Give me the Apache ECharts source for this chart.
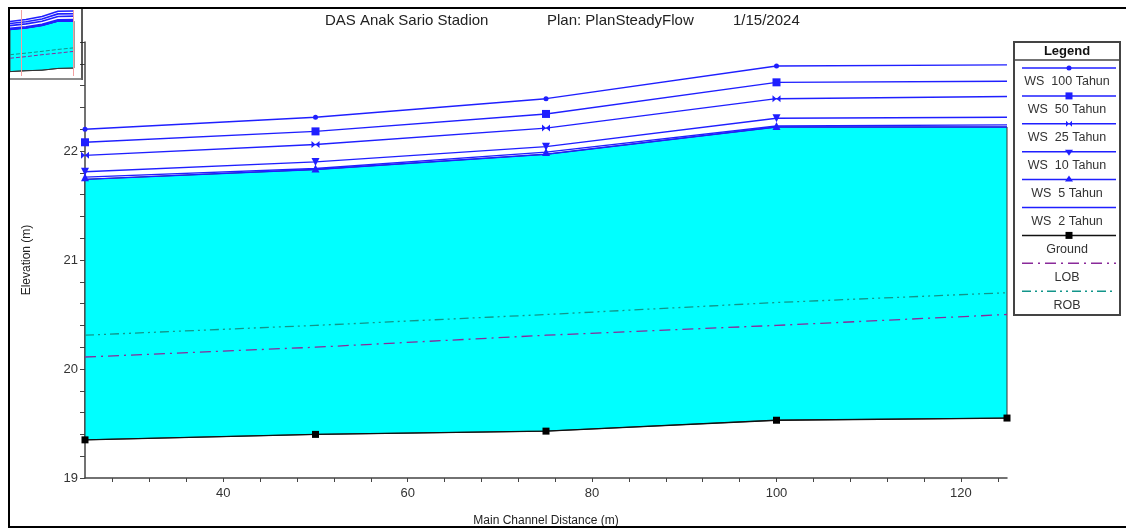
<!DOCTYPE html>
<html>
<head>
<meta charset="utf-8">
<script src="https://cdn.jsdelivr.net/npm/echarts@6/dist/echarts.min.js"></script>
<style>
html,body{margin:0;padding:0;background:#fff;}
#c{width:1126px;height:529px;}
</style>
</head>
<body>
<div id="c"></div>
<script>
// ---- data ----
const xs = [25, 50, 75, 100, 125];
const ws100 = [22.20, 22.31, 22.48, 22.78, 22.79];
const ws50  = [22.08, 22.18, 22.34, 22.63, 22.64];
const ws25  = [21.96, 22.06, 22.21, 22.48, 22.50];
const ws10  = [21.81, 21.90, 22.04, 22.30, 22.31];
const ws5   = [21.76, 21.84, 21.99, 22.23, 22.24];
const ws2   = [21.74, 21.83, 21.97, 22.22, 22.22];
const ground = [19.35, 19.40, 19.43, 19.53, 19.55];
const lob = [20.11, 20.20, 20.31, 20.40, 20.50];
const rob = [20.31, 20.40, 20.50, 20.61, 20.70];

const wsNames = ['WS  100 Tahun', 'WS  50 Tahun', 'WS  25 Tahun', 'WS  10 Tahun', 'WS  5 Tahun', 'WS  2 Tahun'];
const otherNames = ['Ground', 'LOB', 'ROB'];
const titleParts = ['DAS Anak Sario Stadion', 'Plan: PlanSteadyFlow', '1/15/2024'];

const xLabelValues = [40, 60, 80, 100, 120];
const xTickValues = [28, 32, 36, 40, 44, 48, 52, 56, 60, 64, 68, 72, 76, 80, 84, 88, 92, 96, 100, 104, 108, 112, 116, 120, 124];
const yLabelValues = [19, 20, 21, 22];
const yTickValues = [19, 19.2, 19.4, 19.6, 19.8, 20, 20.2, 20.4, 20.6, 20.8, 21, 21.2, 21.4, 21.6, 21.8, 22, 22.2, 22.4, 22.6, 22.8, 23];
const thumbMarks = [42, 124.5];

// ---- styles ----
const FONT = '"Liberation Sans", Arial, sans-serif';
const BLUE = '#1f1fff';
const LOBC = '#8a2a9a';
const ROBC = '#12958a';
const CYAN = '#00ffff';
const bowtie = 'path://M0,0L10,10L10,0L0,10Z';

const wsSeriesData = [ws100, ws50, ws25, ws10, ws5, ws2];
const wsSymbols = [
  {symbol: 'circle', size: 5, rotate: 0},
  {symbol: 'rect', size: 8, rotate: 0},
  {symbol: bowtie, size: [8, 7], rotate: 0},
  {symbol: 'triangle', size: 8, rotate: 180},
  {symbol: 'triangle', size: 8, rotate: 0},
  {symbol: 'none', size: 0, rotate: 0}
];

function pts(ys, lastNoSymbol) {
  return xs.map((x, i) => {
    if (lastNoSymbol && i === xs.length - 1) return {value: [x, ys[i]], symbol: 'none'};
    return [x, ys[i]];
  });
}

function fillSeries(xi, yi, stroke) {
  return {
    type: 'custom', xAxisIndex: xi, yAxisIndex: yi, silent: true, z: 1,
    data: [[xs[0], ground[0]]],
    renderItem: function (params, api) {
      const top = xs.map((x, i) => api.coord([x, ws2[i]]));
      const bot = xs.map((x, i) => api.coord([x, ground[i]])).reverse();
      return {type: 'polygon', shape: {points: top.concat(bot)},
        style: {fill: CYAN, stroke: stroke, lineWidth: 1}};
    }
  };
}

const series = [];
// main chart
series.push(fillSeries(0, 0, '#333'));
series.push({name: 'LOB', type: 'line', data: pts(lob), symbol: 'none', z: 3,
  lineStyle: {color: LOBC, width: 1.3, type: [11, 5, 2, 5]}});
series.push({name: 'ROB', type: 'line', data: pts(rob), symbol: 'none', z: 3,
  lineStyle: {color: ROBC, width: 1.3, type: [9, 4, 2, 4, 2, 4]}});
series.push({name: 'Ground', type: 'line', data: pts(ground), symbol: 'rect', symbolSize: 7, z: 4,
  itemStyle: {color: '#000'}, lineStyle: {color: '#111', width: 1.3}});
for (let k = wsSeriesData.length - 1; k >= 0; k--) {
  const s = wsSymbols[k];
  series.push({name: wsNames[k], type: 'line', data: pts(wsSeriesData[k], true), z: 5,
    symbol: s.symbol, symbolSize: s.size, symbolRotate: s.rotate, showAllSymbol: true,
    itemStyle: {color: BLUE}, lineStyle: {color: BLUE, width: 1.4}});
}
// thumbnail
series.push(fillSeries(1, 1, '#444'));
series.push({type: 'line', xAxisIndex: 1, yAxisIndex: 1, data: pts(lob), symbol: 'none', silent: true,
  lineStyle: {color: LOBC, width: 1, type: [4, 2]}});
series.push({type: 'line', xAxisIndex: 1, yAxisIndex: 1, data: pts(rob), symbol: 'none', silent: true,
  lineStyle: {color: ROBC, width: 1, type: [4, 2]}});
series.push({type: 'line', xAxisIndex: 1, yAxisIndex: 1, data: pts(ground), symbol: 'none', silent: true,
  lineStyle: {color: '#333', width: 1},
  markLine: {silent: true, symbol: 'none', label: {show: false},
    lineStyle: {color: '#f2a0a0', width: 1, type: 'solid'},
    data: thumbMarks.map(v => ({xAxis: v}))}});
wsSeriesData.forEach(d => series.push({type: 'line', xAxisIndex: 1, yAxisIndex: 1, data: pts(d), symbol: 'none', silent: true,
  lineStyle: {color: BLUE, width: 1.6}}));

// ---- graphic: frame, title, legend ----
const g = [];
g.push({type: 'rect', z: 100, shape: {x: 9, y: 8, width: 1130, height: 519}, style: {fill: null, stroke: '#000', lineWidth: 2}});
g.push({type: 'line', z: 100, shape: {x1: 82, y1: 9, x2: 82, y2: 80}, style: {stroke: '#222', lineWidth: 1.5}});
g.push({type: 'line', z: 100, shape: {x1: 10, y1: 79, x2: 82, y2: 79}, style: {stroke: '#666', lineWidth: 1.5}});
const titleX = [325, 547, 733];
titleParts.forEach((t, i) => g.push({type: 'text', z: 100, style: {text: t, x: titleX[i], y: 20.5,
  textVerticalAlign: 'middle', font: '15px ' + FONT, fill: '#222'}}));

const LX1 = 1014, LX2 = 1120, LTOP = 42, LBOT = 315;
const LCX = (LX1 + LX2) / 2;
g.push({type: 'rect', z: 100, shape: {x: LX1, y: LTOP, width: LX2 - LX1, height: LBOT - LTOP}, style: {fill: '#fff', stroke: '#444', lineWidth: 2}});
g.push({type: 'text', z: 101, style: {text: 'Legend', x: LCX, y: 51, textAlign: 'center', textVerticalAlign: 'middle', font: 'bold 13px ' + FONT, fill: '#111'}});
g.push({type: 'line', z: 101, shape: {x1: LX1, y1: 60, x2: LX2, y2: 60}, style: {stroke: '#444', lineWidth: 1.5}});

const legendItems = [];
wsNames.forEach((n, k) => legendItems.push({name: n, color: BLUE, dash: null, marker: ['circle', 'square', 'bowtie', 'tdown', 'tup', null][k]}));
legendItems.push({name: otherNames[0], color: '#111', dash: null, marker: 'gsquare'});
legendItems.push({name: otherNames[1], color: LOBC, dash: [11, 5, 2, 5], marker: null});
legendItems.push({name: otherNames[2], color: ROBC, dash: [9, 4, 2, 4, 2, 4], marker: null});
const LSTEP = 27.9;
legendItems.forEach((it, i) => {
  const ly = 68 + i * LSTEP;
  g.push({type: 'line', z: 101, shape: {x1: 1022, y1: ly, x2: 1116, y2: ly}, style: {stroke: it.color, lineWidth: 1.5, lineDash: it.dash}});
  const mx = 1069;
  if (it.marker === 'circle') g.push({type: 'circle', z: 102, shape: {cx: mx, cy: ly, r: 2.5}, style: {fill: BLUE}});
  if (it.marker === 'square') g.push({type: 'rect', z: 102, shape: {x: mx - 3.5, y: ly - 3.5, width: 7, height: 7}, style: {fill: BLUE}});
  if (it.marker === 'bowtie') g.push({type: 'polygon', z: 102, shape: {points: [[mx - 3, ly - 3], [mx + 3, ly + 3], [mx + 3, ly - 3], [mx - 3, ly + 3]]}, style: {fill: BLUE}});
  if (it.marker === 'tdown') g.push({type: 'polygon', z: 102, shape: {points: [[mx - 4, ly - 2], [mx + 4, ly - 2], [mx, ly + 4]]}, style: {fill: BLUE}});
  if (it.marker === 'tup') g.push({type: 'polygon', z: 102, shape: {points: [[mx - 4, ly + 2], [mx + 4, ly + 2], [mx, ly - 4]]}, style: {fill: BLUE}});
  if (it.marker === 'gsquare') g.push({type: 'rect', z: 102, shape: {x: mx - 3.5, y: ly - 3.5, width: 7, height: 7}, style: {fill: '#000'}});
  g.push({type: 'text', z: 101, style: {text: it.name, x: LCX, y: ly + 14, textAlign: 'center', textVerticalAlign: 'middle', font: '12.5px ' + FONT, fill: '#333'}});
});

const chart = echarts.init(document.getElementById('c'), null, {renderer: 'canvas'});
chart.setOption({
  animation: false,
  backgroundColor: '#fff',
  textStyle: {fontFamily: FONT},
  grid: [
    {left: 85, right: 119, top: 42, bottom: 51, containLabel: false, outerBoundsMode: 'none'},
    {left: 10, top: 10, width: 64, height: 66, containLabel: false, outerBoundsMode: 'none'}
  ],
  xAxis: [
    {type: 'value', gridIndex: 0, min: 25, max: 125,
      name: 'Main Channel Distance (m)', nameLocation: 'middle', nameGap: 37,
      nameTextStyle: {fontSize: 12, color: '#222'},
      axisLine: {show: true, onZero: false, lineStyle: {color: '#444', width: 1.5}},
      axisTick: {show: true, length: 4, customValues: xTickValues, lineStyle: {color: '#444'}},
      axisLabel: {customValues: xLabelValues, fontSize: 13, color: '#333', margin: 9},
      splitLine: {show: false}},
    {type: 'value', gridIndex: 1, min: 25, max: 125, show: false, splitLine: {show: false}}
  ],
  yAxis: [
    {type: 'value', gridIndex: 0, min: 19, max: 23,
      name: 'Elevation (m)', nameLocation: 'middle', nameGap: 52,
      nameTextStyle: {fontSize: 12, color: '#222'},
      axisLine: {show: true, onZero: false, lineStyle: {color: '#444', width: 1.5}},
      axisTick: {show: true, length: 5, customValues: yTickValues, lineStyle: {color: '#444'}},
      axisLabel: {customValues: yLabelValues, fontSize: 13, color: '#333', margin: 7},
      splitLine: {show: false}},
    {type: 'value', gridIndex: 1, min: 19.1, max: 22.85, show: false, splitLine: {show: false}}
  ],
  graphic: g,
  series: series
});
</script>
</body>
</html>
